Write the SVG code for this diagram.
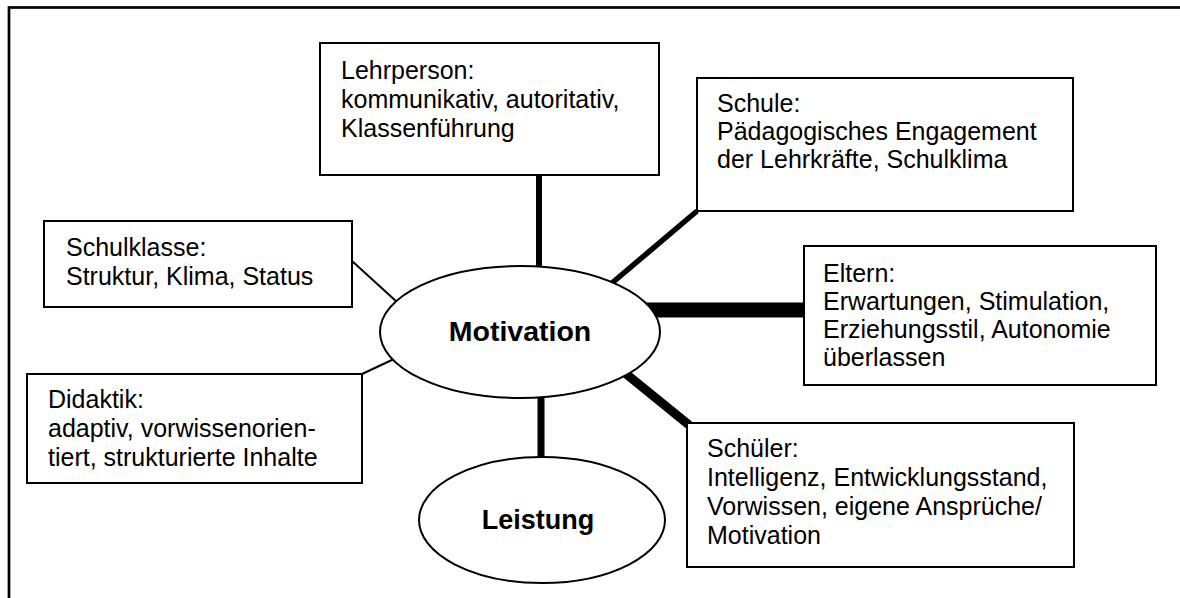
<svg xmlns="http://www.w3.org/2000/svg" width="1180" height="598" viewBox="0 0 1180 598">
<style>
.box{fill:#fff;stroke:#000;stroke-width:2}
.ell{fill:#fff;stroke:#000;stroke-width:2}
.t{font-family:"Liberation Sans",Arial,sans-serif;font-size:25px;fill:#000}
.b{font-family:"Liberation Sans",Arial,sans-serif;font-weight:bold;fill:#000;text-anchor:middle}
.c{stroke:#000;fill:none;stroke-linecap:butt}
</style>
<rect x="0" y="0" width="1180" height="598" fill="#fff"/>
<rect id="frame" x="9" y="7.5" width="1200" height="620" fill="none" stroke="#000" stroke-width="2.7"/>
<g id="connectors">
<line class="c" x1="539" y1="175" x2="539" y2="267" stroke-width="6"/>
<line class="c" x1="697" y1="211" x2="612" y2="283" stroke-width="5.5"/>
<line class="c" x1="645" y1="310" x2="804" y2="310" stroke-width="15"/>
<line class="c" x1="625" y1="373" x2="689" y2="425" stroke-width="9"/>
<line class="c" x1="541" y1="396" x2="541" y2="458" stroke-width="7"/>
<line class="c" x1="352" y1="261" x2="397" y2="302" stroke-width="2"/>
<line class="c" x1="362" y1="374" x2="394" y2="359" stroke-width="2"/>
</g>
<g id="lehrperson">
<rect class="box" x="320" y="43" width="339" height="132"/>
<text class="t" x="341" y="79">Lehrperson:</text>
<text class="t" x="341" y="108">kommunikativ, autoritativ,</text>
<text class="t" x="341" y="137">Klassenführung</text>
</g>
<g id="schule">
<rect class="box" x="697" y="78" width="376" height="133"/>
<text class="t" x="717" y="112">Schule:</text>
<text class="t" x="717" y="140">Pädagogisches Engagement</text>
<text class="t" x="717" y="168">der Lehrkräfte, Schulklima</text>
</g>
<g id="eltern">
<rect class="box" x="804" y="246" width="352" height="139"/>
<text class="t" x="823" y="282">Eltern:</text>
<text class="t" x="823" y="310">Erwartungen, Stimulation,</text>
<text class="t" x="823" y="338">Erziehungsstil, Autonomie</text>
<text class="t" x="823" y="366">überlassen</text>
</g>
<g id="schueler">
<rect class="box" x="687" y="423" width="387" height="144"/>
<text class="t" x="707" y="457">Schüler:</text>
<text class="t" x="707" y="486">Intelligenz, Entwicklungsstand,</text>
<text class="t" x="707" y="515">Vorwissen, eigene Ansprüche/</text>
<text class="t" x="707" y="544">Motivation</text>
</g>
<g id="schulklasse">
<rect class="box" x="44" y="221" width="308" height="86"/>
<text class="t" x="66" y="256">Schulklasse:</text>
<text class="t" x="66" y="285">Struktur, Klima, Status</text>
</g>
<g id="didaktik">
<rect class="box" x="27" y="374" width="335" height="109"/>
<text class="t" x="48" y="408">Didaktik:</text>
<text class="t" x="48" y="437">adaptiv, vorwissenorien-</text>
<text class="t" x="48" y="466">tiert, strukturierte Inhalte</text>
</g>
<g id="motivation">
<ellipse class="ell" cx="520" cy="332" rx="140" ry="66"/>
<text class="b" x="520" y="341" font-size="28.5">Motivation</text>
</g>
<g id="leistung">
<ellipse class="ell" cx="542" cy="520" rx="123" ry="63"/>
<text class="b" x="538" y="529" font-size="27">Leistung</text>
</g>
</svg>
